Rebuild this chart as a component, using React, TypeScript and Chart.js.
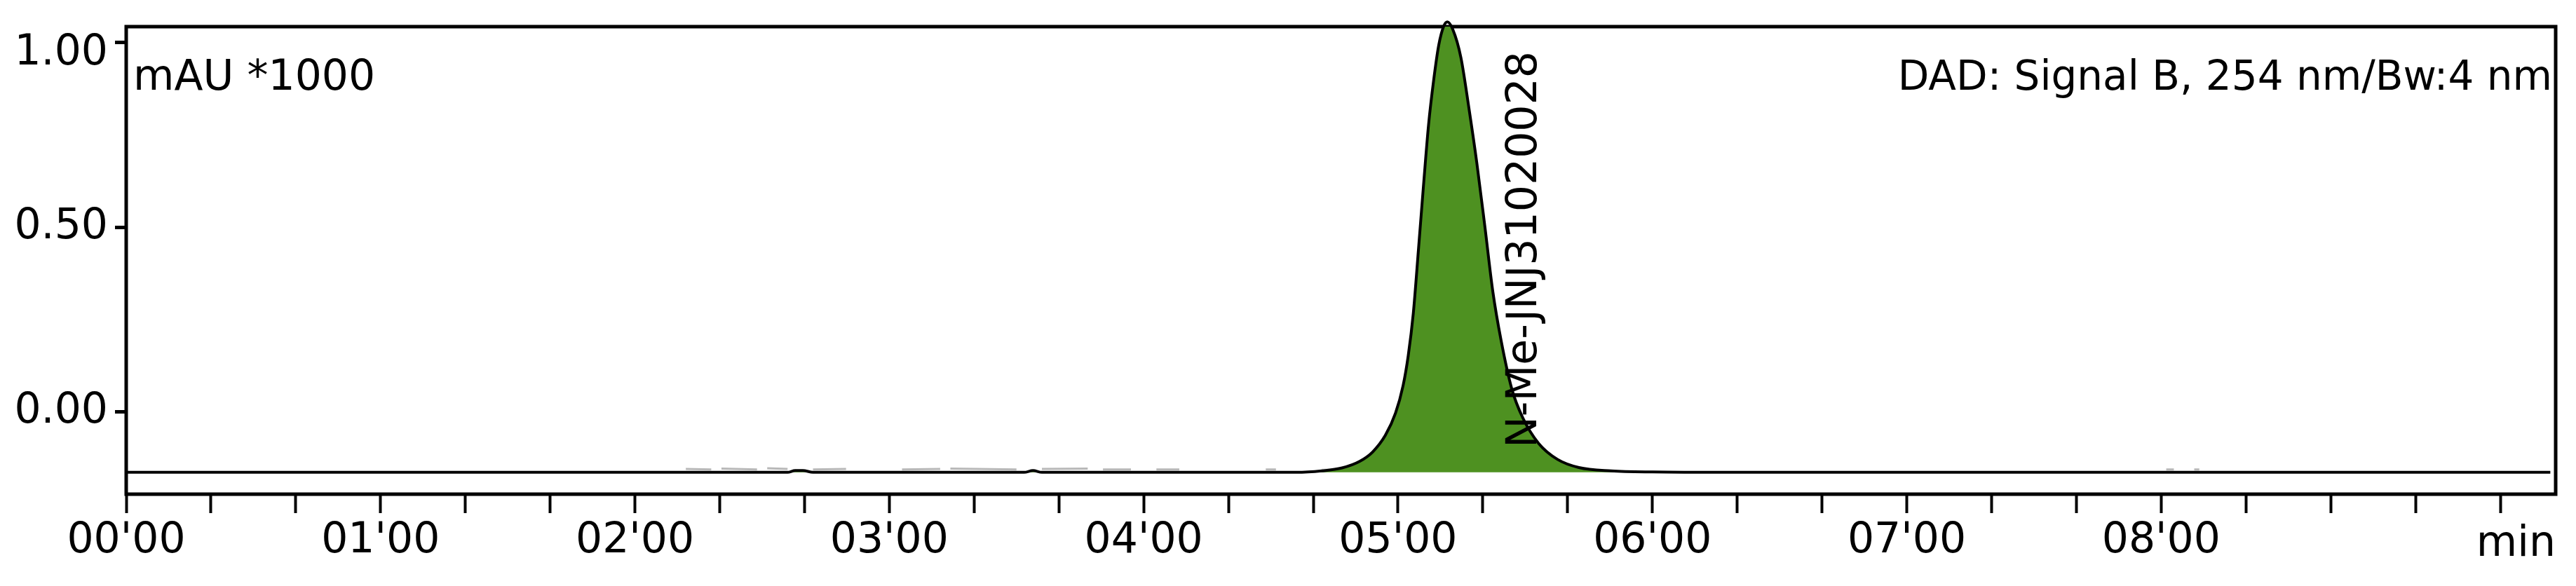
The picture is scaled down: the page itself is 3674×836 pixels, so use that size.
import React, { useEffect, useRef } from 'react';
import { Chart, registerables } from 'chart.js';

Chart.register(...registerables);

// ---- data ----
// signal trace (time in minutes, response in mAU*1000)
const traceTimes = [
  0, 2.6, 2.63, 2.66, 2.7, 3.53, 3.565, 3.6, 4.6, 4.7, 4.78, 4.85, 4.9, 4.95,
  4.99, 5.02, 5.04, 5.06, 5.08, 5.1, 5.12, 5.14, 5.16, 5.18, 5.194, 5.215, 5.247,
  5.279, 5.31, 5.342, 5.373, 5.405, 5.447, 5.49, 5.553, 5.627, 5.711, 5.838, 6.0,
  6.3, 9.53,
];
const traceValues = [
  -0.163, -0.163, -0.158, -0.158, -0.163, -0.163, -0.158, -0.163, -0.163, -0.159,
  -0.151, -0.133, -0.108, -0.063, -0.003, 0.072, 0.152, 0.267, 0.437, 0.612,
  0.777, 0.897, 0.992, 1.044, 1.055, 1.035, 0.959, 0.82, 0.672, 0.498, 0.324,
  0.194, 0.063, -0.015, -0.085, -0.128, -0.15, -0.159, -0.162, -0.163, -0.163,
];
// faint grey noise fragments just above the baseline (null = gap)
const noiseTimes = [
  2.2, 2.3, 2.31, 2.34, 2.48, 2.49, 2.52, 2.6, 2.61, 2.7, 2.83, 2.84, 3.05, 3.2,
  3.21, 3.24, 3.5, 3.51, 3.6, 3.78, 3.79, 3.84, 3.95, 3.96, 4.05, 4.14, 4.15,
  4.48, 4.52, 4.53, 4.7, 4.8, 4.81, 8.02, 8.05, 8.06, 8.13, 8.15,
];
const noiseValues = [
  -0.154, -0.155, null, -0.153, -0.155, null, -0.152, -0.154, null, -0.155,
  -0.154, null, -0.155, -0.154, null, -0.153, -0.155, null, -0.154, -0.153, null,
  -0.155, -0.155, null, -0.155, -0.155, null, -0.155, -0.155, null, -0.156,
  -0.155, null, -0.155, -0.155, null, -0.155, -0.155,
];
const integrationBaseline = -0.163;

const yTickValues = [0, 0.5, 1.0];
const xMajorLabels = ["00'00", "01'00", "02'00", "03'00", "04'00", "05'00", "06'00", "07'00", "08'00"];
const xMinorStep = 1 / 3; // tick every 20 s
const xLastTick = 9.34;
const xMin = 0;
const xMax = 9.551;
const yMin = -0.222;
const yMax = 1.042;

const peakName = 'N-Me-JNJ31020028';
const peakLabelAt = { x: 5.543, y: -0.097 };
const unitText = 'mAU *1000';
const signalText = 'DAD: Signal B, 254 nm/Bw:4 nm';
const axisUnit = 'min';

const FONT = 'DejaVu Sans';
const GREEN = '#4e9121';

const textPlugin = {
  id: 'chromText',
  beforeDatasetsDraw(chart: any) {
    const { ctx, chartArea } = chart;
    ctx.save();
    ctx.strokeStyle = '#000';
    ctx.lineWidth = 5;
    ctx.strokeRect(chartArea.left, chartArea.top, chartArea.right - chartArea.left, chartArea.bottom - chartArea.top);
    ctx.restore();
  },
  afterDatasetsDraw(chart: any) {
    const { ctx, chartArea, scales } = chart;
    ctx.save();
    ctx.fillStyle = '#000';
    ctx.textBaseline = 'alphabetic';
    ctx.font = `60px "${FONT}"`;
    ctx.textAlign = 'left';
    ctx.fillText(unitText, chartArea.left + 10, chartArea.top + 90);
    ctx.font = `58px "${FONT}"`;
    ctx.textAlign = 'right';
    ctx.fillText(signalText, chartArea.right - 5, chartArea.top + 90);
    // peak label, rotated
    ctx.font = `60px "${FONT}"`;
    const px = scales.x.getPixelForValue(peakLabelAt.x);
    const py = scales.y.getPixelForValue(peakLabelAt.y);
    ctx.translate(px, py);
    ctx.rotate(-Math.PI / 2);
    ctx.textAlign = 'left';
    ctx.fillText(peakName, 0, 0);
    ctx.restore();
    // axis unit
    ctx.save();
    ctx.fillStyle = '#000';
    ctx.font = `60px "${FONT}"`;
    ctx.textAlign = 'right';
    ctx.textBaseline = 'alphabetic';
    ctx.fillText(axisUnit, chartArea.right, chartArea.bottom + 88);
    ctx.restore();
  },
};

export default function App() {
  const ref = useRef<HTMLCanvasElement>(null);
  useEffect(() => {
    document.body.style.margin = '0';
    const canvas = ref.current!;
    const chart = new Chart(canvas, {
      type: 'line',
      data: {
        datasets: [
          {
            label: 'signal',
            data: traceTimes.map((t, i) => ({ x: t, y: traceValues[i] })),
            borderColor: '#000',
            borderWidth: 4,
            pointRadius: 0,
            fill: { value: integrationBaseline },
            backgroundColor: GREEN,
            cubicInterpolationMode: 'monotone',
            clip: false as any,
            order: 0,
          },
          {
            label: 'noise',
            data: noiseTimes.map((t, i) => ({ x: t, y: noiseValues[i] as any })),
            borderColor: '#b8b8b8',
            borderWidth: 3,
            pointRadius: 0,
            fill: false,
            spanGaps: false,
            order: 1,
          },
        ],
      },
      options: {
        responsive: false,
        animation: false,
        devicePixelRatio: 1,
        layout: { padding: { left: 0, top: 38, right: 29, bottom: 0 } },
        plugins: { legend: { display: false }, tooltip: { enabled: false } },
        scales: {
          x: {
            type: 'linear',
            min: xMin,
            max: xMax,
            afterBuildTicks: (s: any) => {
              const ticks = [];
              for (let k = 0; k * xMinorStep <= xLastTick; k++) ticks.push({ value: k * xMinorStep });
              s.ticks = ticks;
            },
            afterFit: (s: any) => {
              s.height = 131;
              s.paddingLeft = 0;
              s.paddingRight = 0;
            },
            grid: { drawOnChartArea: false, drawTicks: true, tickLength: 27, tickWidth: 4, tickColor: '#000' },
            border: { display: false },
            ticks: {
              autoSkip: false,
              maxRotation: 0,
              minRotation: 0,
              padding: 4,
              color: '#000',
              font: { family: FONT, size: 60 },
              callback: (v: any) => {
                const k = Math.round(Number(v) / xMinorStep);
                if (k % 3 !== 0) return '';
                return xMajorLabels[k / 3] ?? '';
              },
            },
          },
          y: {
            type: 'linear',
            min: yMin,
            max: yMax,
            afterBuildTicks: (s: any) => {
              s.ticks = yTickValues.map((v) => ({ value: v }));
            },
            afterFit: (s: any) => {
              s.width = 180;
              s.paddingTop = 0;
              s.paddingBottom = 0;
            },
            grid: { drawOnChartArea: false, drawTicks: true, tickLength: 16, tickWidth: 5, tickColor: '#000' },
            border: { display: false },
            ticks: {
              padding: 10,
              color: '#000',
              // the top label sits a little below its tick, as in the reference
              font: (c: any) =>
                c.tick && c.tick.value === 1
                  ? { family: FONT, size: 60, lineHeight: 32 / 60 }
                  : { family: FONT, size: 60 },
              callback: (v: any) => (Number(v) === 1 ? ['', Number(v).toFixed(2)] : Number(v).toFixed(2)),
            },
          },
        },
      },
      plugins: [textPlugin],
    } as any);
    return () => chart.destroy();
  }, []);
  return (
    <canvas
      ref={ref}
      width={3674}
      height={836}
      style={{ display: 'block', position: 'absolute', left: 0, top: 0 }}
    />
  );
}
